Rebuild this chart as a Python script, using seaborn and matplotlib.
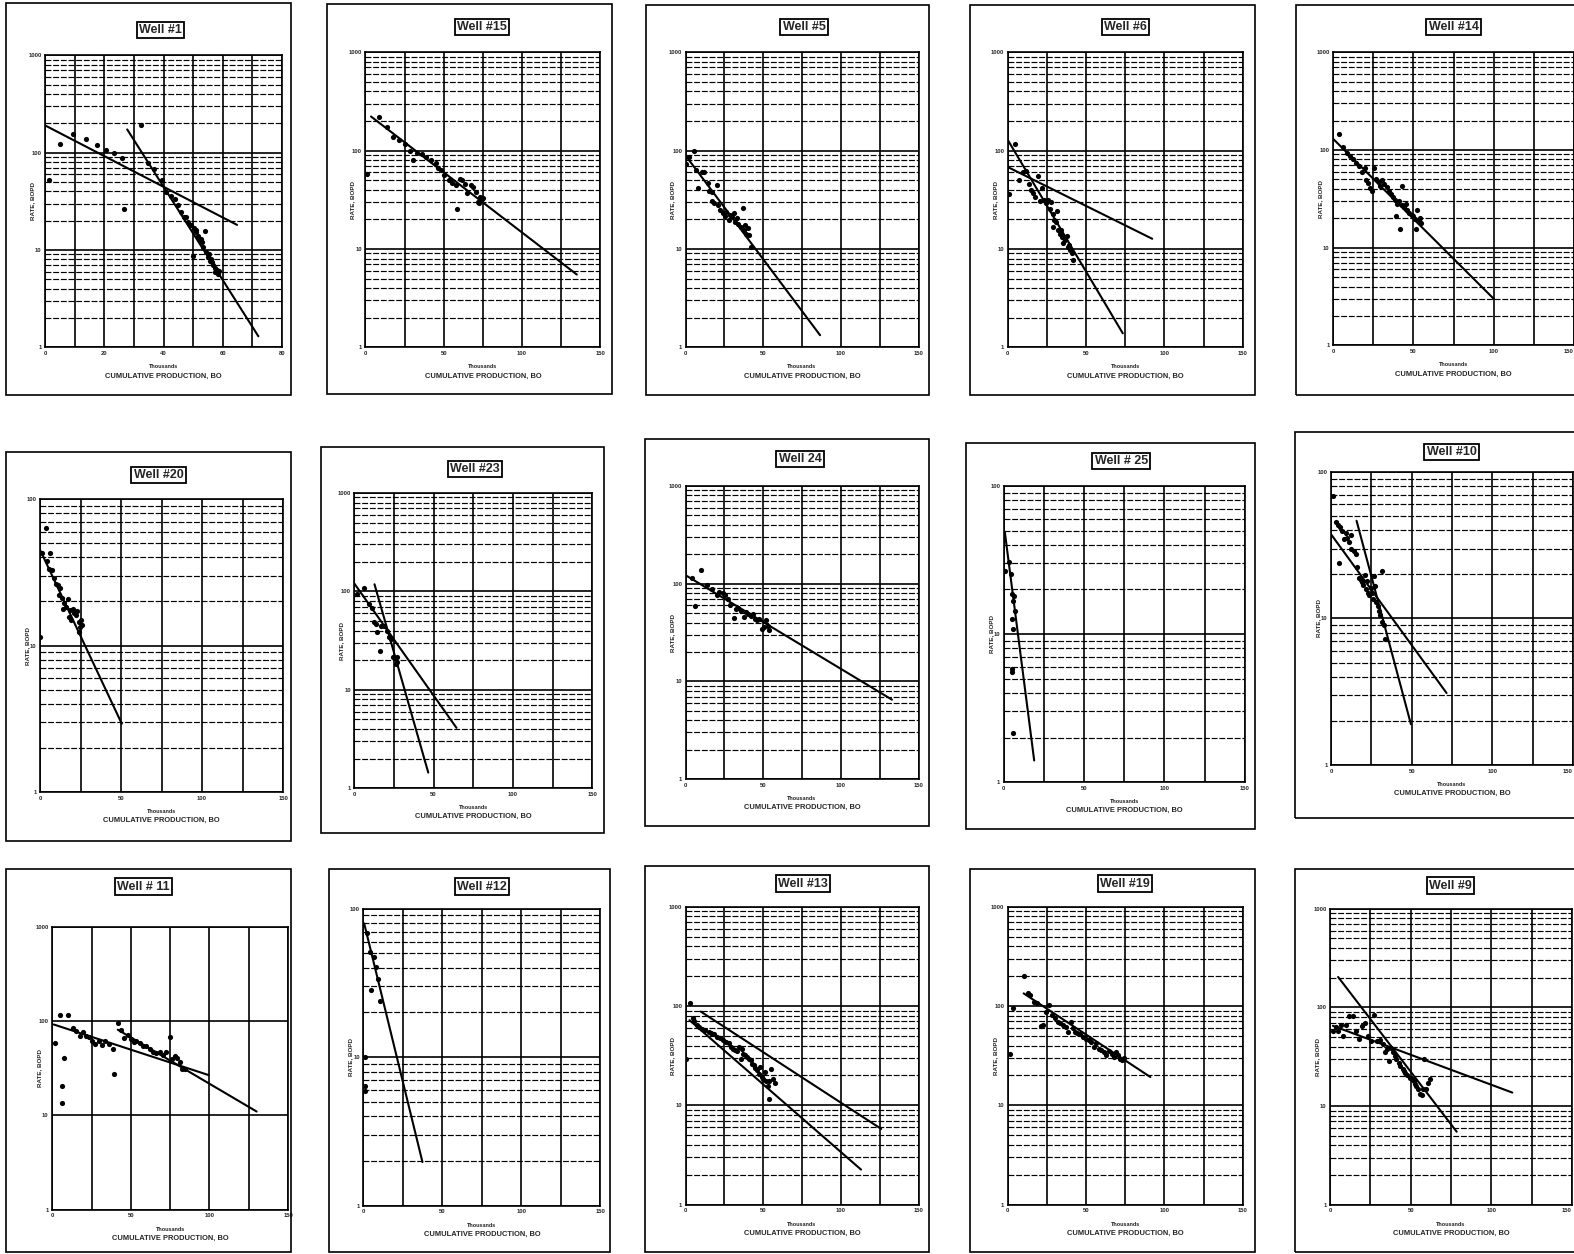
import numpy as np
import pandas as pd
import matplotlib
matplotlib.use("Agg")
import matplotlib.pyplot as plt
import seaborn as sns
from matplotlib.patches import Rectangle
from matplotlib.ticker import LogLocator, NullFormatter

sns.set_style("white")
plt.rcParams['font.family'] = ['Liberation Sans', 'DejaVu Sans']
plt.rcParams['font.weight'] = 'bold'

# ------------------ data ------------------
titles = ["Well #1", "Well #15", "Well #5", "Well #6", "Well #14",
          "Well #20", "Well #23", "Well 24", "Well # 25", "Well #10",
          "Well # 11", "Well #12", "Well #13", "Well #19", "Well #9"]
x_max = [80, 150, 150, 150, 150, 150, 150, 150, 150, 150, 150, 150, 150, 150, 150]
y_max = [1000, 1000, 1000, 1000, 1000, 100, 1000, 1000, 100, 100, 1000, 100, 1000, 1000, 1000]

# cumulative production (thousand BO) and rate (BOPD)
w1_x = [1.3, 5.1, 9.5, 13.8, 17.5, 20.7, 23.4, 25.8, 26.6, 32.3, 34.6, 36.9, 39.5, 40.9, 42.6,
        43.7, 44.8, 45.8, 46.9, 47.7, 48.3, 49.2, 49.8, 50.3, 50.9, 51.7, 52.3, 52.9, 54.0, 53.4,
        54.2, 54.9, 55.6, 56.3, 56.8, 57.4, 58.0, 58.3, 57.4, 58.6, 50.8, 52.6, 55.2, 56.0]
w1_y = [52, 124, 156, 139, 119, 106, 99, 87, 26.5, 192, 78, 68, 52, 39, 36,
        33, 29, 24.5, 21.7, 22, 19.6, 17.9, 8.7, 17, 15.3, 13.9, 12.9, 12.1, 15.8, 10.7,
        9.6, 8.5, 7.8, 7.6, 7.0, 6.5, 6.2, 5.7, 6.0, 6.1, 16, 13, 9, 8]
w1_fit_x = [[0, 64.8], [27.7, 72]]
w1_fit_y = [[190, 18.1], [173, 1.3]]

w15_x = [1, 8.7, 13.9, 17.7, 21.3, 25.6, 28.4, 30.5, 33.0, 36.2, 39.0, 41.6, 44.8, 46.3, 48.0, 50.5,
         53.3, 55.4, 57.6, 58.2, 60.3, 61.8, 63.3, 65.0, 67.2, 68.9, 70.4, 71.9, 73.1, 74.2, 75.3, 72.6]
w15_y = [58.5, 222, 173, 139, 127, 117, 100, 81, 95, 92, 86, 80, 74, 66, 63, 56,
         50, 47, 45, 25.4, 52, 50, 46, 37, 45, 43, 38, 30, 34, 32, 33, 29]
w15_fit_x = [[3.6, 135]]
w15_fit_y = [[222, 5.5]]

w5_x = [0.5, 5.1, 2.5, 6.8, 8.1, 10.6, 11.9, 14.4, 15.2, 17.0, 17.0, 18.2, 20.3, 20.8, 22.0, 23.8, 25.3,
        26.3, 27.8, 28.9, 29.9, 30.9, 31.9, 32.9, 33.9, 35.4, 36.9, 37.4, 38.9, 40.0, 41.0, 42.3, 38.4]
w5_y = [73, 98, 86, 63, 42, 60, 61, 47, 39, 38, 31, 29, 45, 28, 25, 23, 21.5,
        23.5, 19.5, 22, 21, 23, 18.8, 20.5, 18, 16.8, 26, 15.5, 14.3, 16.2, 13.8, 10.5, 17.4]
w5_fit_x = [[0, 86.6]]
w5_fit_y = [[89, 1.33]]

w6_x = [0.75, 4.5, 7, 9.5, 11.3, 13.8, 15.1, 16.3, 17.6, 19.1, 20.6, 22.1, 23.1, 24.6, 25.6, 27.6, 27.1, 28.9,
        29.6, 28.6, 30.6, 31.4, 32.2, 33.2, 33.9, 34.7, 35.2, 35.7, 36.7, 37.7, 38.2, 38.9, 39.7, 40.7, 41.7]
w6_y = [36, 117, 50, 60, 62, 46, 39.5, 37, 34, 55, 31, 42, 31.5, 29, 31.5, 30, 25.6, 22.8,
        19.8, 16.7, 18.8, 24.6, 15.5, 14.3, 15.7, 13.3, 11.4, 12.8, 12.2, 13.5, 10.5, 10.9, 9.7, 9.0, 7.8]
w6_fit_x = [[0, 92.2], [0, 73.4]]
w6_fit_y = [[68, 12.7], [128, 1.39]]

w14_x = [3.8, 6.4, 8.5, 10.6, 12.1, 14.3, 16.0, 17.7, 19.8, 20.6, 21.9, 22.8, 24.0, 25.5, 26.6, 28.3, 29.1,
         30.4, 31.9, 33.4, 34.7, 36.2, 37.2, 38.3, 38.9, 39.8, 41.0, 41.5, 42.6, 43.2, 44.0, 45.3, 46.2,
         47.4, 48.9, 50.0, 51.0, 51.7, 52.5, 53.2, 54.3, 54.7]
w14_y = [147, 108, 94, 86, 80, 74, 69, 60, 66, 49, 46, 41, 38, 66, 51, 47, 43,
         49, 45, 42, 38, 35.5, 33, 31, 21, 28, 30, 15.6, 27, 42.6, 26, 28, 24,
         22.6, 21.8, 21, 19.8, 15.6, 24, 19.2, 20, 18]
w14_fit_x = [[0, 100]]
w14_fit_y = [[130, 3.0]]

w20_x = [0, 3.7, 1.2, 4.2, 6.0, 5.5, 7.2, 8.7, 10.0, 11.2, 12.2, 11.7, 13.5, 14.2, 15.0, 16.2, 17.2,
         18.0, 18.7, 19.2, 20.4, 21.2, 22.2, 22.9, 23.7, 24.2, 24.7, 25.4, 25.9]
w20_y = [11.4, 63, 42.5, 38, 43, 33.5, 33, 28.7, 26.5, 25.8, 24.7, 22, 21, 17.9, 19.4, 18.3, 20.7,
         15.7, 17.5, 14.9, 17.9, 16.7, 16.1, 17.2, 14.5, 12.3, 13.4, 14.9, 13.8]
w20_fit_x = [[0, 50.4]]
w20_fit_y = [[44.8, 2.93]]

w23_x = [1.8, 5.9, 9.4, 10.9, 12.2, 13.5, 14.5, 16.0, 17.0, 18.6, 20.4, 21.6, 22.9, 24.2, 25.4, 26.7, 27.2, 26.2]
w23_y = [95, 109, 75, 67, 49, 47, 39, 25, 44, 44, 40, 34.5, 33, 21.5, 21, 19.2, 21.5, 18.4]
w23_fit_x = [[0, 64.4], [12.7, 46.6]]
w23_fit_y = [[120, 4.1], [118, 1.44]]

w24_x = [4.1, 6.2, 10.0, 13.9, 16.9, 20.3, 21.8, 23.9, 25.4, 27.1, 28.8, 31.0, 32.5, 34.0, 35.7, 37.4,
         38.9, 40.4, 42.1, 43.4, 44.7, 45.9, 47.4, 48.9, 50.2, 51.7, 52.8, 53.8]
w24_y = [115, 59, 139, 98, 89, 76, 82, 80, 76, 70, 60, 44.6, 55, 57, 53, 46,
         51, 49, 47, 49, 44, 42, 43, 34.5, 36, 42, 37, 33.5]
w24_fit_x = [[0, 132.9]]
w24_fit_y = [[122, 6.5]]

w25_x = [1.0, 3.2, 4.2, 4.8, 5.7, 6.3, 6.9, 4.8, 5.7, 4.8, 4.8, 5.7]
w25_y = [26.8, 30.6, 25.5, 18.6, 16.7, 18.1, 14.3, 12.6, 10.8, 5.8, 5.5, 2.15]
w25_fit_x = [[0.6, 18.9]]
w25_fit_y = [[49, 1.4]]

w10_x = [1, 3.2, 4.2, 5.3, 4.8, 6.9, 7.8, 9.1, 9.9, 11.2, 12.6, 12.6, 14.1, 15.4, 16.2, 17.5, 18.3, 19.2,
         20.0, 21.0, 21.7, 22.5, 23.2, 23.8, 24.6, 25.3, 25.9, 26.7, 27.4, 28.0, 28.8, 29.7, 30.5, 31.4,
         31.8, 32.6, 33.3]
w10_y = [68.5, 45.4, 43.5, 42, 23.8, 39.5, 34.6, 38.5, 35.5, 33, 37, 30, 29, 27.5, 22.5, 18.9, 18.3, 17.6,
         16.8, 19.8, 15.8, 18, 15, 14.4, 16.2, 15, 13.6, 19.4, 16.7, 13, 12.1, 11.2, 10.6, 21,
         9.5, 9.0, 7.3]
w10_fit_x = [[0, 71.6], [15.8, 49.5]]
w10_fit_y = [[37.5, 3.1], [46.4, 1.9]]

w11_x = [1.7, 4.7, 6.0, 6.4, 7.7, 10.3, 13.2, 15.4, 17.5, 19.7, 21.8, 23.5, 25.6, 27.4, 29.5, 31.6, 33.8,
         36.3, 38.5, 39.5, 41.7, 43.8, 45.9, 48.1, 50.2, 51.7, 53.4, 55.6, 57.7, 59.8, 62.0, 64.1, 66.2,
         68.4, 70.5, 72.6, 74.8, 75.9, 78.0, 79.5, 81.2, 82.3, 84.4]
w11_y = [59, 115, 13.5, 20.6, 40.5, 115, 85, 79, 69, 76, 70, 67, 62, 57, 62, 56, 62,
         57, 50, 27.7, 96, 81, 66, 71, 64, 60, 62, 58, 55, 55, 51, 46.5, 46,
         47, 44, 46.5, 67, 40, 43, 41, 37, 30.8, 31]
w11_fit_x = [[1, 99.4], [41.7, 130]]
w11_fit_y = [[92, 26.8], [81, 11]]

w12_x = [1, 1, 1, 2.5, 4.2, 5.0, 6.7, 8.0, 9.2, 10.5]
w12_y = [6.45, 5.9, 10, 69, 51, 28.3, 47, 40.5, 33.6, 23.9]
w12_fit_x = [[0.5, 37.4]]
w12_fit_y = [[79.5, 1.97]]

w13_x = [0.5, 3.0, 4.6, 5.6, 7.1, 8.9, 10.7, 12.7, 14.8, 16.5, 18.3, 20.4, 22.4, 24.2, 26.0, 28.0, 29.3,
         30.5, 31.8, 33.1, 34.4, 35.6, 36.1, 37.2, 38.2, 39.4, 40.7, 42.0, 42.7, 43.8, 44.8, 45.8, 47.1,
         47.8, 48.9, 49.9, 50.9, 51.9, 52.9, 53.4, 54.0, 55.0, 56.0, 57.3]
w13_y = [29.5, 107, 75, 70, 64, 62, 59, 57, 55, 54, 52, 49, 48, 45, 43.5, 42, 39,
         37, 36, 35, 39, 29.5, 37, 33, 32, 30.6, 29.5, 28.5, 26.3, 25.3, 23.8, 22.5, 20.7,
         24.3, 19.2, 18.5, 21.5, 17.8, 15.8, 11.6, 17.4, 23, 18.5, 17]
w13_fit_x = [[9.7, 126], [2.5, 113]]
w13_fit_y = [[88, 5.8], [72, 2.26]]

w19_x = [1.3, 3.3, 10.1, 12.6, 14.4, 16.4, 18.9, 21.4, 22.7, 24.4, 26.4, 28.5, 30.2, 32.0, 33.5, 35.3,
         37.0, 38.5, 40.3, 41.6, 42.8, 44.1, 46.1, 47.9, 49.6, 51.6, 52.9, 54.7, 56.2, 58.0, 59.7, 61.2,
         63.0, 64.7, 66.2, 68.0, 69.3, 70.5, 71.8, 73.0, 74.3]
w19_y = [33, 95, 199, 134, 130, 110, 106, 63, 64, 88, 103, 81, 76, 69, 67, 64,
         62, 55, 69, 60, 55, 53, 52, 49, 47, 45, 43, 39, 42, 37, 36, 34.5,
         32, 35, 33, 30.6, 34.4, 32, 29.6, 28.5, 30]
w19_fit_x = [[10.1, 91]]
w19_fit_y = [[134, 19.3]]

w9_x = [1.75, 3.5, 5.0, 6.75, 8.0, 10.0, 11.75, 14.25, 16.0, 18.0, 20.0, 21.75, 23.5, 25.5, 27.5, 29.25,
        31.0, 33.0, 34.25, 35.5, 36.75, 38.0, 38.75, 40.0, 41.0, 42.5, 43.5, 45.0, 46.0, 46.75, 48.0,
        49.25, 50.5, 51.75, 52.5, 53.5, 54.25, 55.5, 56.75, 57.5, 58.5, 59.25, 60.5, 61.75]
w9_y = [58, 63, 58, 66, 51, 67, 82, 81, 58, 48, 65, 70, 51, 45.7, 83, 45.7,
        47, 43, 35.5, 38, 28.7, 39, 35, 32, 30, 27.6, 25.5, 24, 22.6, 21.7, 20.5,
        19.4, 18.7, 18, 16.9, 16, 14.8, 13.1, 12.8, 14.8, 29.7, 14.8, 17, 18.7]
w9_fit_x = [[1.75, 113], [5, 78.5]]
w9_fit_y = [[65, 13.7], [203, 5.5]]

points = [(w1_x, w1_y), (w15_x, w15_y), (w5_x, w5_y), (w6_x, w6_y), (w14_x, w14_y),
          (w20_x, w20_y), (w23_x, w23_y), (w24_x, w24_y), (w25_x, w25_y), (w10_x, w10_y),
          (w11_x, w11_y), (w12_x, w12_y), (w13_x, w13_y), (w19_x, w19_y), (w9_x, w9_y)]
fits = [(w1_fit_x, w1_fit_y), (w15_fit_x, w15_fit_y), (w5_fit_x, w5_fit_y), (w6_fit_x, w6_fit_y),
        (w14_fit_x, w14_fit_y), (w20_fit_x, w20_fit_y), (w23_fit_x, w23_fit_y), (w24_fit_x, w24_fit_y),
        (w25_fit_x, w25_fit_y), (w10_fit_x, w10_fit_y), (w11_fit_x, w11_fit_y), (w12_fit_x, w12_fit_y),
        (w13_fit_x, w13_fit_y), (w19_fit_x, w19_fit_y), (w9_fit_x, w9_fit_y)]

# ------------------ page layout (pixels of the scanned page) ------------------
W, H = 1568, 1249
# frame box, plot box, title centre
layout = [
    ((6, 3, 290, 393), (45, 55, 281, 346), (160, 30)),
    ((326, 4, 610, 392), (364, 52, 598, 346), (480, 27)),
    ((644, 5, 925, 393), (683, 52, 915, 346), (801, 27)),
    ((966, 5, 1250, 393), (1004, 52, 1238, 346), (1121, 27)),
    ((1291, 5, 1572, 393), (1328, 52, 1568, 344), (1448, 27)),
    ((6, 450, 290, 838), (40, 497, 282, 789), (158, 473)),
    ((320, 445, 602, 830), (353, 491, 590, 785), (473, 467)),
    ((643, 437, 925, 823), (683, 484, 915, 776), (797, 457)),
    ((962, 441, 1250, 826), (1000, 484, 1240, 779), (1117, 459)),
    ((1290, 430, 1572, 815), (1326, 470, 1567, 762), (1446, 450)),
    ((6, 866, 290, 1247), (52, 923, 287, 1205), (143, 883)),
    ((328, 866, 608, 1247), (362, 905, 598, 1201), (480, 883)),
    ((643, 863, 925, 1247), (683, 903, 915, 1200), (800, 880)),
    ((966, 866, 1250, 1247), (1004, 903, 1238, 1200), (1121, 880)),
    ((1290, 866, 1572, 1247), (1325, 905, 1566, 1200), (1445, 882)),
]

fig = plt.figure(figsize=(15.74, 12.54), dpi=100)
fig.patch.set_facecolor("white")

for i, (frame, box, tpos) in enumerate(layout):
    fx0, fy0, fx1, fy1 = frame
    fig.patches.append(Rectangle((fx0 / W, 1 - fy1 / H), (fx1 - fx0) / W, (fy1 - fy0) / H,
                                 transform=fig.transFigure, fill=False, ec="black", lw=1.2))
    fig.text(tpos[0] / W, 1 - tpos[1] / H, titles[i], ha="center", va="center",
             fontsize=9, fontweight="bold",
             bbox=dict(boxstyle="square,pad=0.18", fc="white", ec="black", lw=1.3))

    ax0, ay0, ax1, ay1 = box
    ax = fig.add_axes([ax0 / W, 1 - ay1 / H, (ax1 - ax0) / W, (ay1 - ay0) / H])
    ax.set_yscale("log")
    ax.set_xlim(0, x_max[i])
    ax.set_ylim(1, y_max[i])
    ax.set_axisbelow(True)

    # grid: solid verticals and decades, dashed intermediate rate lines
    step = 20 if x_max[i] == 80 else 50
    ax.set_xticks(np.arange(0, x_max[i] + 1, step))
    ax.set_xticks(np.arange(step / 2, x_max[i], step), minor=True)
    decades = [10 ** k for k in range(int(np.log10(y_max[i])) + 1)]
    ax.set_yticks(decades)
    ax.set_yticklabels([str(d) for d in decades])
    ax.yaxis.set_minor_locator(LogLocator(base=10, subs=range(2, 10)))
    ax.yaxis.set_minor_formatter(NullFormatter())
    ax.grid(True, which="major", color="black", lw=1.2, ls="-")
    ax.grid(True, which="minor", axis="x", color="black", lw=1.2, ls="-")
    if i != 10:
        ax.grid(True, which="minor", axis="y", color="black", lw=0.85, ls=(0, (5, 1.5)))
    ax.tick_params(which="both", length=0, labelsize=4.2, pad=2.5)
    for sp in ax.spines.values():
        sp.set_color("black")
        sp.set_linewidth(1.2)
    # panels at the right page edge: keep the last x label inside the page
    if ax1 >= 1560:
        ax.get_xticklabels()[-1].set_horizontalalignment("right")

    px, py = points[i]
    sns.scatterplot(x=px, y=py, ax=ax, color="black", s=14, edgecolor="black", linewidth=0, zorder=3)
    lx, ly = fits[i]
    for xs, ys in zip(lx, ly):
        sns.lineplot(x=xs, y=ys, ax=ax, color="black", lw=1.5, estimator=None, sort=False, zorder=4)

    ax.set_xlabel("")
    ax.set_ylabel("")
    ax.annotate("RATE, BOPD", xy=(0, 0.5), xycoords="axes fraction", xytext=(-9, 0),
                textcoords="offset points", rotation=90, ha="center", va="center", fontsize=4.5)
    ax.annotate("Thousands", xy=(0.5, 0), xycoords="axes fraction", xytext=(0, -14),
                textcoords="offset points", ha="center", va="center", fontsize=4)
    ax.annotate("CUMULATIVE PRODUCTION, BO", xy=(0.5, 0), xycoords="axes fraction", xytext=(0, -20.5),
                textcoords="offset points", ha="center", va="center", fontsize=5.4)

fig.savefig("out.png", dpi=100, facecolor="white")
